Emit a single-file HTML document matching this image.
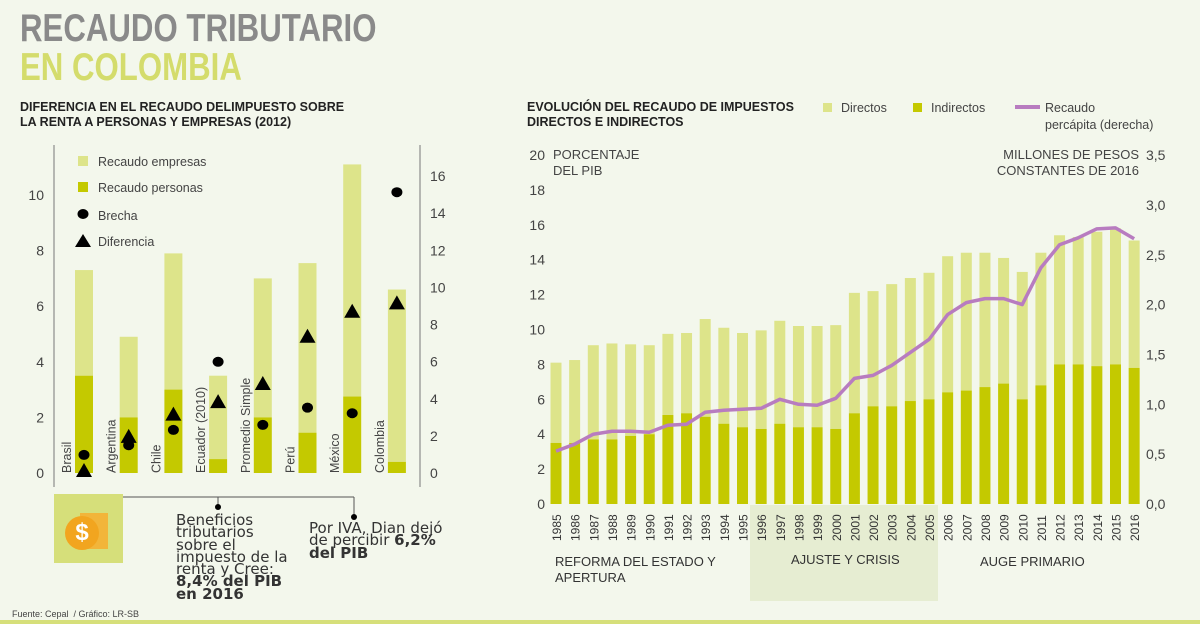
<!DOCTYPE html>
<html><head><meta charset="utf-8"><style>
body{margin:0;background:#f3f7ec;font-family:"Liberation Sans",sans-serif;}
#page{position:relative;width:1200px;height:624px;overflow:hidden;background:#f3f7ec;}
.t{position:absolute;white-space:nowrap;}
svg text{font-family:"Liberation Sans",sans-serif;}
</style></head><body>
<div id="page">
<div class="t" style="left:20px;top:7px;font-size:39px;font-weight:bold;color:#8a8a8a;transform:scaleX(0.8);transform-origin:0 0">RECAUDO TRIBUTARIO</div>
<div class="t" style="left:20px;top:46px;font-size:39px;font-weight:bold;color:#d4dc6c;transform:scaleX(0.8);transform-origin:0 0">EN COLOMBIA</div>
<div class="t" style="left:20px;top:100px;font-size:12.5px;font-weight:bold;color:#222;line-height:15px">DIFERENCIA EN EL RECAUDO DELIMPUESTO SOBRE<br>LA RENTA A PERSONAS Y EMPRESAS (2012)</div>
<div class="t" style="left:527px;top:100px;font-size:12.5px;font-weight:bold;color:#222;line-height:15px">EVOLUCIÓN DEL RECAUDO DE IMPUESTOS<br>DIRECTOS E INDIRECTOS</div>
<svg id="chart" width="1200" height="624" style="position:absolute;left:0;top:0"></svg>
<div style="position:absolute;left:54px;top:494px;width:69px;height:69px;background:#d6df7a">
<div style="position:absolute;left:26px;top:19px;width:28px;height:36px;background:#f2b53a"></div>
<div style="position:absolute;left:11px;top:22px;width:34px;height:34px;border-radius:50%;background:#f2a51f;color:#fff;font-size:24px;font-weight:bold;text-align:center;line-height:34px">$</div></div>
<div class="t" style="left:176px;top:514px;font-family:'DejaVu Sans',sans-serif;font-size:15px;line-height:12.3px;color:#333">Beneficios<br>tributarios<br>sobre el<br>impuesto de la<br>renta y Cree:<br><b>8,4% del PIB</b><br><b>en 2016</b></div>
<div class="t" style="left:309px;top:522px;font-family:'DejaVu Sans',sans-serif;font-size:15px;line-height:12.3px;color:#333">Por IVA, Dian dejó<br>de percibir <b>6,2%</b><br><b>del PIB</b></div>
<div class="t" style="left:12px;top:609px;font-size:9px;color:#444">Fuente: Cepal &nbsp;/ Gráfico: LR-SB</div>
<div style="position:absolute;left:0;top:620px;width:1200px;height:4px;background:#d6df7a"></div>
</div>
<script>
// Left chart data
const countries=["Brasil","Argentina","Chile","Ecuador (2010)","Promedio Simple","Perú","México","Colombia"];
const personas=[3.5,2.0,3.0,0.5,2.0,1.45,2.75,0.4];
const totalRecaudo=[7.3,4.9,7.9,3.5,7.0,7.55,11.1,6.6];
const brecha=[0.65,1.0,1.55,4.0,1.73,2.35,2.15,10.1];
const diferencia=[0.07,1.3,2.1,2.55,3.2,4.9,5.8,6.1];
const leftTicks=[0,2,4,6,8,10];
const leftRightTicks=[0,2,4,6,8,10,12,14,16];
// Right chart data
const years=[1985,1986,1987,1988,1989,1990,1991,1992,1993,1994,1995,1996,1997,1998,1999,2000,2001,2002,2003,2004,2005,2006,2007,2008,2009,2010,2011,2012,2013,2014,2015,2016];
const totalImp=[8.1,8.25,9.1,9.2,9.15,9.1,9.75,9.8,10.6,10.1,9.8,9.95,10.5,10.2,10.2,10.25,12.1,12.2,12.6,12.95,13.25,14.2,14.4,14.4,14.1,13.3,14.4,15.4,15.3,15.6,15.8,15.1];
const indirectos=[3.5,3.5,3.7,3.7,3.9,4.0,5.1,5.2,5.0,4.6,4.4,4.3,4.6,4.4,4.4,4.3,5.2,5.6,5.6,5.9,6.0,6.4,6.5,6.7,6.9,6.0,6.8,8.0,8.0,7.9,8.0,7.8];
const percapita=[0.53,0.6,0.7,0.73,0.73,0.72,0.79,0.8,0.92,0.94,0.95,0.96,1.05,1.0,0.99,1.06,1.26,1.29,1.39,1.52,1.65,1.9,2.02,2.06,2.06,2.0,2.37,2.6,2.67,2.76,2.77,2.66];
const rightTicks=[0,2,4,6,8,10,12,14,16,18,20];
const rightRTicks=["0,0","0,5","1,0","1,5","2,0","2,5","3,0","3,5"];

const svg=document.getElementById('chart');
const NS='http://www.w3.org/2000/svg';
function mk(tag,attrs,parent){const e=document.createElementNS(NS,tag);for(const k in attrs)e.setAttribute(k,attrs[k]);(parent||svg).appendChild(e);return e;}
const LIGHT='#dde48a',DARK='#c4c900';

// Left axes
const lY=v=>473-v*27.8, lY2=v=>473-v*18.56, lX=i=>84+i*44.7;
let e;
e=mk('line',{x1:54,y1:145,x2:54,y2:487,stroke:'#777','stroke-width':1});

e=mk('line',{x1:420,y1:145,x2:420,y2:487,stroke:'#777','stroke-width':1});

leftTicks.forEach(v=>{e=mk('text',{x:44,y:lY(v)+5,'text-anchor':'end','font-size':14,fill:'#444'});e.textContent=v;
});
leftRightTicks.forEach(v=>{e=mk('text',{x:430,y:lY2(v)+5,'font-size':14,fill:'#444'});e.textContent=v;
});
countries.forEach((c,i)=>{
 const x=lX(i)-9;
 e=mk('rect',{x:x,y:lY(totalRecaudo[i]),width:18,height:lY(personas[i])-lY(totalRecaudo[i]),fill:LIGHT});
 
 e=mk('rect',{x:x,y:lY(personas[i]),width:18,height:473-lY(personas[i]),fill:DARK});
 
 e=mk('text',{transform:`translate(${x-4},473) rotate(-90)`,'font-size':12.5,fill:'#444'});e.textContent=c;
 
});
countries.forEach((c,i)=>{
 e=mk('ellipse',{cx:lX(i),cy:lY(brecha[i]),rx:5.5,ry:5,fill:'#000'});
 
 const ty=lY(diferencia[i]),tx=lX(i);
 e=mk('polygon',{points:`${tx},${ty-8} ${tx-8},${ty+6} ${tx+8},${ty+6}`,fill:'#000'});
 
});
// left legend
e=mk('rect',{x:78,y:156,width:10,height:10,fill:LIGHT});
e=mk('rect',{x:78,y:182,width:10,height:10,fill:DARK});
e=mk('ellipse',{cx:83,cy:214,rx:5.5,ry:5,fill:'#000'});
e=mk('polygon',{points:'83,234 75,247 91,247',fill:'#000'});
[["Recaudo empresas",166],["Recaudo personas",192],["Brecha",220],["Diferencia",246]].forEach(a=>{
 e=mk('text',{x:98,y:a[1],'font-size':12.5,fill:'#444'});e.textContent=a[0];
 });
// connectors
e=mk('path',{d:'M123,497 H354 M218,497 V507 M354,497 V517',stroke:'#555',fill:'none','stroke-width':1});

e=mk('circle',{cx:218,cy:507,r:3,fill:'#000'});
e=mk('circle',{cx:354,cy:517,r:3,fill:'#000'});

// Right chart
const rY=v=>504-v*17.45, rY2=v=>504-v*99.7, rX=i=>556+i*18.65;
e=mk('rect',{x:750,y:505,width:188,height:96,fill:'#e6edd2'});

rightTicks.forEach(v=>{e=mk('text',{x:545,y:rY(v)+5,'text-anchor':'end','font-size':14,fill:'#444'});e.textContent=v;
 });
rightRTicks.forEach((t,i)=>{e=mk('text',{x:1146,y:rY2(i*0.5)+5,'font-size':14,fill:'#444'});e.textContent=t;
 });
years.forEach((y,i)=>{
 const x=rX(i)-5.5;
 e=mk('rect',{x:x,y:rY(totalImp[i]),width:11,height:rY(indirectos[i])-rY(totalImp[i]),fill:LIGHT});
 
 e=mk('rect',{x:x,y:rY(indirectos[i]),width:11,height:504-rY(indirectos[i]),fill:DARK});
 
 e=mk('text',{transform:`translate(${rX(i)+5},541) rotate(-90)`,'font-size':12,fill:'#333'});e.textContent=y;
 
});
e=mk('polyline',{points:percapita.map((v,i)=>rX(i)+','+rY2(v)).join(' '),fill:'none',stroke:'#b87cc0','stroke-width':3.5,'stroke-linejoin':'round'});

[["PORCENTAJE",553,159,'start'],["DEL PIB",553,175,'start'],["MILLONES DE PESOS",1139,159,'end'],["CONSTANTES DE 2016",1139,175,'end']].forEach(a=>{
 e=mk('text',{x:a[1],y:a[2],'font-size':13,fill:'#444','text-anchor':a[3]});e.textContent=a[0];
 });
// right legend
e=mk('rect',{x:823,y:103,width:9,height:9,fill:LIGHT});
e=mk('rect',{x:913,y:103,width:9,height:9,fill:DARK});
e=mk('line',{x1:1015,y1:107,x2:1040,y2:107,stroke:'#b87cc0','stroke-width':4});
[["Directos",841,112],["Indirectos",931,112],["Recaudo",1045,112],["percápita (derecha)",1045,129]].forEach(a=>{
 e=mk('text',{x:a[1],y:a[2],'font-size':12.5,fill:'#444'});e.textContent=a[0];
 });
[["REFORMA DEL ESTADO Y",555,566],["APERTURA",555,582],["AJUSTE Y CRISIS",791,564],["AUGE PRIMARIO",980,566]].forEach(a=>{
 e=mk('text',{x:a[1],y:a[2],'font-size':13,fill:'#333'});e.textContent=a[0];
 });
</script>
</body></html>
